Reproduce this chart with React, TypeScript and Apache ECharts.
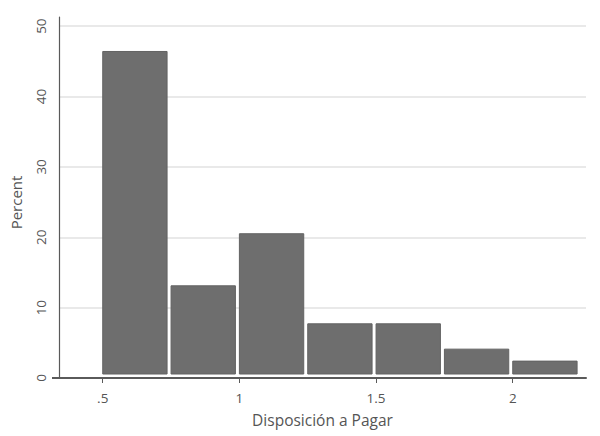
import React, { useEffect, useRef } from "react";
import * as echarts from "echarts";

const binStarts = [0.5, 0.75, 1, 1.25, 1.5, 1.75, 2];
const binWidth = 0.25;
const percents = [46.4, 13.1, 20.5, 7.7, 7.7, 4.1, 2.4];
const xTicks = [0.5, 1, 1.5, 2];
const xTickLabels = [".5", "1", "1.5", "2"];
const yTicks = [0, 10, 20, 30, 40, 50];

export default function App() {
  const ref = useRef<HTMLDivElement>(null);
  useEffect(() => {
    if (!ref.current) return;
    const chart = echarts.init(ref.current, null, { renderer: "svg" });
    const textColor = "#555555";
    const font = "Open Sans";
    chart.setOption({
      animation: false,
      backgroundColor: "#ffffff",
      grid: { left: 59, right: 14, top: 17, bottom: 58, containLabel: false },
      xAxis: {
        type: "value",
        min: 0.34,
        max: 2.268,
        name: "Disposición a Pagar",
        nameLocation: "middle",
        nameGap: 34,
        nameTextStyle: { color: textColor, fontSize: 15.5, fontFamily: font },
        axisLine: { show: true, onZero: false, lineStyle: { color: "#5a5a5a", width: 2 } },
        axisTick: { show: true, customValues: xTicks, length: 5, lineStyle: { color: "#5a5a5a", width: 1 } },
        axisLabel: {
          customValues: xTicks,
          margin: 13,
          color: textColor,
          fontSize: 13.5,
          fontFamily: font,
          formatter: (v: number) => {
            const i = xTicks.indexOf(v);
            return i >= 0 ? xTickLabels[i] : "";
          },
        },
        splitLine: { show: false },
      },
      yAxis: [
        {
          type: "value",
          min: 0,
          max: 51.3,
          interval: 10,
          name: "Percent",
          nameLocation: "middle",
          nameRotate: 90,
          nameGap: 36,
          nameTextStyle: { color: textColor, fontSize: 15, fontFamily: font, padding: [0, 10, 0, 0] },
          axisLine: { show: true, lineStyle: { color: "#5a5a5a", width: 1.2 } },
          axisTick: { show: false },
          axisLabel: {
            rotate: 90,
            margin: 11,
            color: textColor,
            fontSize: 13.5,
            fontFamily: font,
            showMaxLabel: false,
            formatter: (v: number) => (yTicks.indexOf(v) >= 0 ? String(v) : ""),
          },
          splitLine: { show: true, showMaxLine: false, lineStyle: { color: "#e2e2e2", width: 1.5 } },
        },
        {
          type: "value",
          position: "left",
          min: 0,
          max: 51.3,
          axisLine: { show: false },
          axisLabel: { show: false },
          splitLine: { show: false },
          axisTick: { show: true, customValues: [0], length: 7, lineStyle: { color: "#5a5a5a", width: 2 } },
        },
      ],
      series: [
        {
          type: "custom",
          yAxisIndex: 0,
          data: binStarts.map((s, i) => [s, s + binWidth, percents[i]]),
          encode: { x: [0, 1], y: 2 },
          renderItem: (params: any, api: any) => {
            const x0 = api.value(0);
            const x1 = api.value(1);
            const v = api.value(2);
            const top = api.coord([x0, v]);
            const bot = api.coord([x1, 0]);
            return {
              type: "rect",
              shape: {
                x: top[0],
                y: top[1],
                width: bot[0] - top[0] - 4,
                height: bot[1] - top[1] - 4,
              },
              style: { fill: "#6e6e6e", stroke: "#626262", lineWidth: 1 },
            };
          },
        },
      ],
    });
    return () => chart.dispose();
  }, []);
  return (
    <div
      ref={ref}
      style={{ position: "fixed", left: 0, top: 0, width: 600, height: 436 }}
    />
  );
}
